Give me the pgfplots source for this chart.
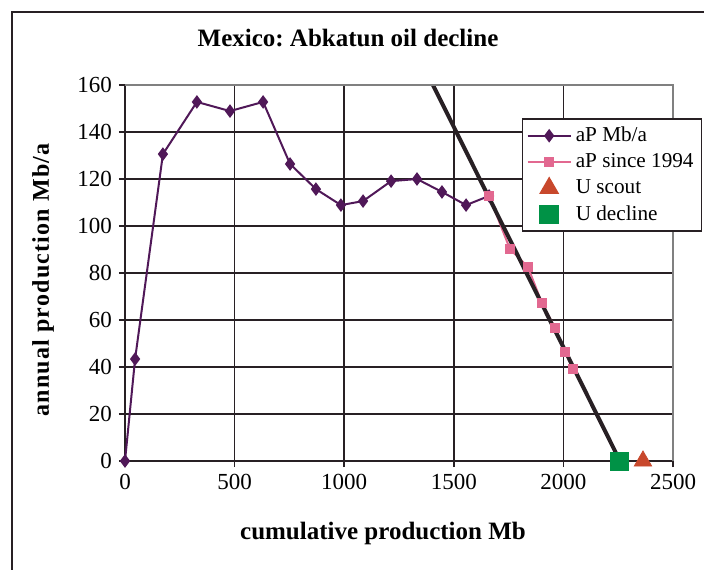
\documentclass[border=0pt]{standalone}
\usepackage{pgfplots}
\pgfplotsset{compat=1.18}
\usepackage{fontspec}
\setmainfont{Liberation Serif}
\frenchspacing
\definecolor{apurple}{RGB}{80,24,88}
\definecolor{apink}{RGB}{226,104,144}
\definecolor{ured}{RGB}{200,72,44}
\definecolor{ugreen}{RGB}{0,146,70}
\definecolor{gridc}{RGB}{40,32,36}
\pgfplotsset{
    longline legend/.style={legend image code/.code={
        \draw[mark repeat=2, mark phase=2, ##1] plot coordinates {(0cm,0cm) (0.38cm,0cm) (0.76cm,0cm)};}},
    markonly legend/.style={legend image code/.code={
        \draw[##1] plot coordinates {(0.38cm,0cm)};}},
}
\begin{document}
\begin{tikzpicture}
\useasboundingbox (-62.5pt,-54pt) rectangle (289.5pt,230.5pt);
\draw[line width=1.2pt, gridc] (-56.5pt,-70pt) -- (-56.5pt,224.5pt) -- (320pt,224.5pt);
\begin{axis}[
    scale only axis,
    width=274pt, height=188pt,
    at={(0,0)}, anchor=origin,
    xmin=0, xmax=2500, ymin=0, ymax=160,
    xtick={0,500,...,2500}, ytick={0,20,...,160},
    grid=major,
    major grid style={gridc, line width=0.8pt},
    axis lines*=left,
    axis line style={gridc, line width=0.8pt},
    tick align=outside,
    major tick length=3pt,
    tick style={gridc, line width=0.8pt},
    ticklabel style={font=\fontsize{11.5}{12}\selectfont},
    /pgf/number format/assume math mode=true,
    /pgf/number format/1000 sep={},
    clip=false,
    legend style={at={(rel axis cs:0.724,0.912)}, anchor=north west,
        draw=gridc, line width=0.8pt, font=\fontsize{10.6}{13}\selectfont,
        row sep=0.5pt, inner sep=2pt},
    legend cell align=left,
]
\addplot[apurple, line width=1pt, mark=diamond*, mark size=2.6pt,
    mark options={fill=apurple, draw=apurple}, longline legend] coordinates {
(0,0) (46,43.4) (173,130.6) (328,152.8) (479,148.9) (630,152.8)
(753,126.4) (871,115.7) (985,108.9) (1086,110.6) (1214,119.1)
(1332,120) (1446,114.5) (1556,108.9) (1661,112.8)};
\addlegendentry{aP Mb/a}
\addplot[apink, line width=1pt, mark=square*, mark size=2pt,
    mark options={fill=apink, draw=apink}, longline legend] coordinates {
(1661,112.8) (1756,90.2) (1838,82.6) (1902,67.2) (1962,56.6)
(2007,46.4) (2044,39.1)};
\addlegendentry{aP since 1994}
\addplot[only marks, mark=triangle*, mark size=5pt, ured,
    mark options={fill=ured, draw=ured}, markonly legend] coordinates {(2363,0)};
\addlegendentry{U scout}
\addplot[only marks, mark=square*, mark size=4.5pt, ugreen,
    mark options={fill=ugreen, draw=ugreen}, markonly legend] coordinates {(2254,0)};
\addlegendentry{U decline}
\addplot[gridc, line width=2pt, forget plot] coordinates {(1405,160) (2258,0)};
\draw[gray, line width=1pt] (axis description cs:0,1) -- (axis description cs:1,1) -- (axis description cs:1,0);
\end{axis}
\node[font=\fontsize{12.5}{14}\selectfont\bfseries] at (111.5pt,211.5pt) {Mexico: Abkatun oil decline};
\node[font=\fontsize{12.5}{14}\selectfont\bfseries] at (129pt,-36pt) {cumulative production Mb};
\node[font=\fontsize{12}{14}\selectfont\bfseries\addfontfeature{LetterSpace=5}, rotate=90] at (-41pt,90.5pt) {annual production Mb/a};
\end{tikzpicture}
\end{document}
